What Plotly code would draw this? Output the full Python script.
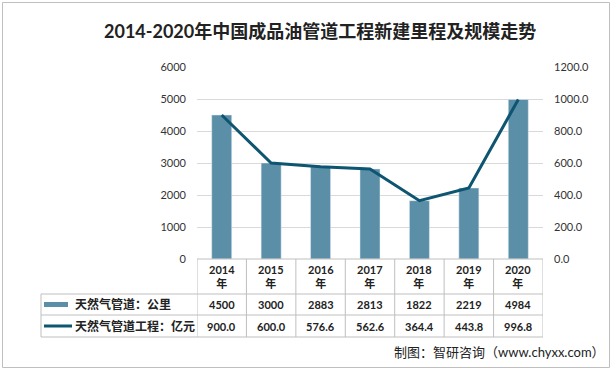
import plotly.graph_objects as go

years = ["2014", "2015", "2016", "2017", "2018", "2019", "2020"]
pipeline_km = [4500, 3000, 2883, 2813, 1822, 2219, 4984]
invest_yi = [900.0, 600.0, 576.6, 562.6, 364.4, 443.8, 996.8]
left_ticks = [0, 1000, 2000, 3000, 4000, 5000, 6000]
right_ticks = [0, 200, 400, 600, 800, 1000, 1200]
series_names = ["天然气管道：公里", "天然气管道工程：亿元"]
title = "2014-2020年中国成品油管道工程新建里程及规模走势"
source = "制图：智研咨询（www.chyxx.com）"

W, H = 612, 370
L, R, T, B = 197, 543, 67, 259
BAR = "#5B8FA7"
LINE = "#0D5570"
GRID = "#D9D9D9"
TBL = "#BFBFBF"
FONT = "Lato, 'Noto Sans CJK SC', sans-serif"

def px(X):
    return (X - L) / (R - L)

def py(Y):
    return (B - Y) / (B - T)

xs = list(range(len(years)))

fig = go.Figure()
fig.add_trace(go.Bar(x=xs, y=pipeline_km, marker_color=BAR, width=0.405,
                     name=series_names[0], yaxis="y"))
fig.add_trace(go.Scatter(x=xs, y=invest_yi, mode="lines", line=dict(color=LINE, width=3),
                         name=series_names[1], yaxis="y2"))

shapes = []
# outer border
shapes.append(dict(type="rect", xref="paper", yref="paper", x0=px(2.5), x1=px(609.5),
                   y0=py(367.5), y1=py(2.5), line=dict(color="#BFBFBF", width=1)))
# table horizontal lines
rows_y = [259, 294, 315, 337]
for i, Y in enumerate(rows_y):
    if i == 0:
        shapes.append(dict(type="line", xref="x", yref="paper", x0=-0.5, x1=6.5,
                           y0=py(Y), y1=py(Y), line=dict(color=TBL, width=1)))
    else:
        shapes.append(dict(type="line", xref="paper", yref="paper", x0=px(41), x1=1,
                           y0=py(Y), y1=py(Y), line=dict(color=TBL, width=1)))
# table vertical lines
for k in range(len(years) + 1):
    shapes.append(dict(type="line", xref="x", yref="paper", x0=k - 0.5, x1=k - 0.5,
                       y0=py(259), y1=py(337), line=dict(color=TBL, width=1)))
shapes.append(dict(type="line", xref="paper", yref="paper", x0=px(41), x1=px(41),
                   y0=py(294), y1=py(337), line=dict(color=TBL, width=1)))
# legend keys
shapes.append(dict(type="rect", xref="paper", yref="paper", x0=px(44), x1=px(68),
                   y0=py(307), y1=py(302), fillcolor=BAR, line=dict(width=0)))
shapes.append(dict(type="line", xref="paper", yref="paper", x0=px(44), x1=px(72),
                   y0=py(326), y1=py(326), line=dict(color=LINE, width=3)))

ann = []
ann.append(dict(text="<b>" + title + "</b>", xref="paper", yref="paper", x=px(320), y=py(31),
                showarrow=False, font=dict(size=18, color="#222222", family=FONT),
                xanchor="center", yanchor="middle"))
ann.append(dict(text=source, xref="paper", yref="paper", x=px(607), y=py(352),
                showarrow=False, font=dict(size=13, color="#222222", family=FONT),
                xanchor="right", yanchor="middle"))
for i, yr in enumerate(years):
    ann.append(dict(text="<b>" + yr + "<br>年</b>", x=i, xref="x", yref="paper", y=py(276.5),
                    showarrow=False, font=dict(size=11, color="#222222", family=FONT),
                    xanchor="center", yanchor="middle"))
    ann.append(dict(text="<b>%d</b>" % pipeline_km[i], x=i, xref="x", yref="paper", y=py(304.5),
                    showarrow=False, font=dict(size=11, color="#222222", family=FONT),
                    xanchor="center", yanchor="middle"))
    ann.append(dict(text="<b>%.1f</b>" % invest_yi[i], x=i, xref="x", yref="paper", y=py(326),
                    showarrow=False, font=dict(size=11, color="#222222", family=FONT),
                    xanchor="center", yanchor="middle"))
ann.append(dict(text="<b>" + series_names[0] + "</b>", xref="paper", yref="paper", x=px(73), y=py(304.5),
                showarrow=False, font=dict(size=12, color="#222222", family=FONT),
                xanchor="left", yanchor="middle"))
ann.append(dict(text="<b>" + series_names[1] + "</b>", xref="paper", yref="paper", x=px(73), y=py(326),
                showarrow=False, font=dict(size=12, color="#222222", family=FONT),
                xanchor="left", yanchor="middle"))

fig.update_layout(
    width=W, height=H, autosize=False,
    margin=dict(l=L, r=W - R, t=T, b=H - B, pad=0),
    paper_bgcolor="white", plot_bgcolor="white",
    showlegend=False,
    font=dict(family=FONT, size=11, color="#333333"),
    xaxis=dict(range=[-0.5, 6.5], showticklabels=False, showgrid=False, zeroline=False,
               showline=False, ticks=""),
    yaxis=dict(range=[0, 6000], tickvals=left_ticks, ticktext=[str(v) for v in left_ticks],
               showgrid=True, gridcolor=GRID, gridwidth=1, zeroline=False, showline=False,
               ticks="", ticklabelstandoff=10, tickfont=dict(size=11, color="#333333")),
    yaxis2=dict(range=[0, 1200], tickvals=right_ticks, ticktext=["%.1f" % v for v in right_ticks],
                overlaying="y", side="right", showgrid=False, zeroline=False, showline=False,
                ticks="", ticklabelstandoff=10, tickfont=dict(size=11, color="#333333")),
    shapes=shapes, annotations=ann,
)

fig.write_html("out.html", config={"displayModeBar": False},
               post_script="document.body.style.margin='0';document.body.style.overflow='hidden';")
